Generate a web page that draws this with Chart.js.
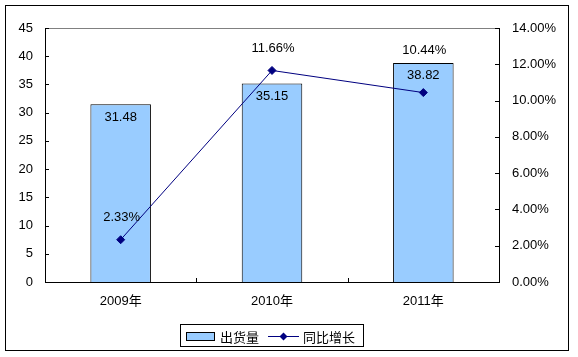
<!DOCTYPE html>
<html><head><meta charset="utf-8">
<script src="https://cdn.jsdelivr.net/npm/chart.js@4/dist/chart.umd.min.js"></script>
<style>html,body{margin:0;padding:0;background:#fff}#wrap{width:578px;height:357px}</style>
</head><body><div id="wrap"><canvas id="c" width="578" height="357"></canvas></div>
<script>
const categories = ['2009年', '2010年', '2011年'];
const shipments = [31.48, 35.15, 38.82];
const growth = [2.33, 11.66, 10.44];
const leftTicks = [0, 5, 10, 15, 20, 25, 30, 35, 40, 45];
const rightTicks = [0, 2, 4, 6, 8, 10, 12, 14];
const seriesNames = ['出货量', '同比增长'];

const FONT = '"Liberation Sans", Arial, "Noto Sans CJK SC", sans-serif';
const CJK = '"Noto Sans CJK SC", sans-serif';

const deco = {
  id: 'deco',
  beforeDraw(chart) {
    const ctx = chart.ctx;
    ctx.save();
    ctx.fillStyle = '#fff';
    ctx.fillRect(0, 0, chart.width, chart.height);
    ctx.restore();
  },
  afterDraw(chart) {
    const ctx = chart.ctx;
    const a = chart.chartArea;
    const yl = chart.scales.y, yr = chart.scales.y1, x = chart.scales.x;
    ctx.save();
    ctx.strokeStyle = '#808080'; ctx.lineWidth = 1;
    ctx.beginPath(); ctx.moveTo(a.left, Math.round(a.top) + 0.5); ctx.lineTo(a.right, Math.round(a.top) + 0.5); ctx.stroke();
    ctx.strokeStyle = '#000';
    ctx.beginPath();
    yl.ticks.forEach(t => { const py = Math.round(yl.getPixelForValue(t.value)) + 0.5; ctx.moveTo(a.left, py); ctx.lineTo(a.left + 4, py); });
    yr.ticks.forEach(t => { const py = Math.round(yr.getPixelForValue(t.value)) + 0.5; ctx.moveTo(a.right - 4, py); ctx.lineTo(a.right, py); });
    for (let i = 1; i < categories.length; i++) {
      const px = Math.round((x.getPixelForValue(i - 1) + x.getPixelForValue(i)) / 2) + 0.5;
      ctx.moveTo(px, a.bottom - 4); ctx.lineTo(px, a.bottom);
    }
    ctx.stroke();
    ctx.fillStyle = '#000';
    ctx.font = '13px ' + FONT;
    ctx.textAlign = 'center'; ctx.textBaseline = 'middle';
    const bars = chart.getDatasetMeta(1).data;
    const pts = chart.getDatasetMeta(0).data;
    bars.forEach((el, i) => {
      ctx.fillText(shipments[i].toFixed(2), el.x, el.y + 13);
    });
    pts.forEach((el, i) => {
      let ly = el.y - 22;
      const barLabelY = bars[i].y + 13;
      if (Math.abs(ly - barLabelY) < 16) ly = bars[i].y - 12;
      ctx.fillText(growth[i].toFixed(2) + '%', el.x + 1, ly);
    });
    ctx.strokeStyle = '#000'; ctx.lineWidth = 1;
    ctx.strokeRect(180.5, 324.5, 183, 22);
    ctx.fillStyle = '#99CCFF';
    ctx.fillRect(186.5, 332.5, 28, 8);
    ctx.strokeRect(186.5, 332.5, 28, 8);
    ctx.fillStyle = '#000';
    ctx.font = '13px ' + CJK;
    ctx.textAlign = 'left';
    ctx.fillText(seriesNames[0], 220, 337);
    ctx.strokeStyle = '#000080';
    ctx.beginPath(); ctx.moveTo(268, 336.5); ctx.lineTo(299, 336.5); ctx.stroke();
    ctx.fillStyle = '#000080';
    ctx.beginPath(); ctx.moveTo(283.5, 332.5); ctx.lineTo(287.5, 336.5); ctx.lineTo(283.5, 340.5); ctx.lineTo(279.5, 336.5); ctx.closePath(); ctx.fill();
    ctx.fillStyle = '#000';
    ctx.fillText(seriesNames[1], 303, 337);
    ctx.strokeStyle = '#000';
    ctx.strokeRect(5.5, 5.5, 563, 345);
    ctx.restore();
  }
};

new Chart(document.getElementById('c'), {
  data: {
    labels: categories,
    datasets: [
      { type: 'line', label: seriesNames[1], data: growth, yAxisID: 'y1', borderColor: '#000080', borderWidth: 1,
        pointStyle: 'rectRot', pointRadius: 4, pointBackgroundColor: '#000080', pointBorderColor: '#000080', tension: 0, order: 0 },
      { type: 'bar', label: seriesNames[0], data: shipments, yAxisID: 'y', backgroundColor: '#99CCFF', borderColor: '#000', borderWidth: 1,
        categoryPercentage: 1, barPercentage: 0.4, order: 1 }
    ]
  },
  options: {
    responsive: false, animation: false, devicePixelRatio: 1,
    layout: { padding: { top: 28, left: 0, right: 0, bottom: 0 } },
    plugins: { legend: { display: false }, tooltip: { enabled: false } },
    scales: {
      x: { offset: true, grid: { display: false, drawTicks: false }, border: { display: true, color: '#000' },
        ticks: { color: '#000', font: { family: FONT, size: 13 }, padding: 12, maxRotation: 0 },
        afterFit(s) { s.height = 75; } },
      y: { position: 'left', min: 0, max: 45, grid: { display: false, drawTicks: false }, border: { display: true, color: '#000' },
        afterBuildTicks(s) { s.ticks = leftTicks.map(v => ({ value: v })); },
        ticks: { color: '#000', font: { family: FONT, size: 13 }, padding: 12 },
        afterFit(s) { s.width = 45; } },
      y1: { position: 'right', min: 0, max: 14, grid: { display: false, drawTicks: false }, border: { display: true, color: '#000' },
        afterBuildTicks(s) { s.ticks = rightTicks.map(v => ({ value: v })); },
        ticks: { color: '#000', font: { family: FONT, size: 13 }, padding: 13, callback: v => v.toFixed(2) + '%' },
        afterFit(s) { s.width = 79; } }
    }
  },
  plugins: [deco]
});
</script></body></html>
